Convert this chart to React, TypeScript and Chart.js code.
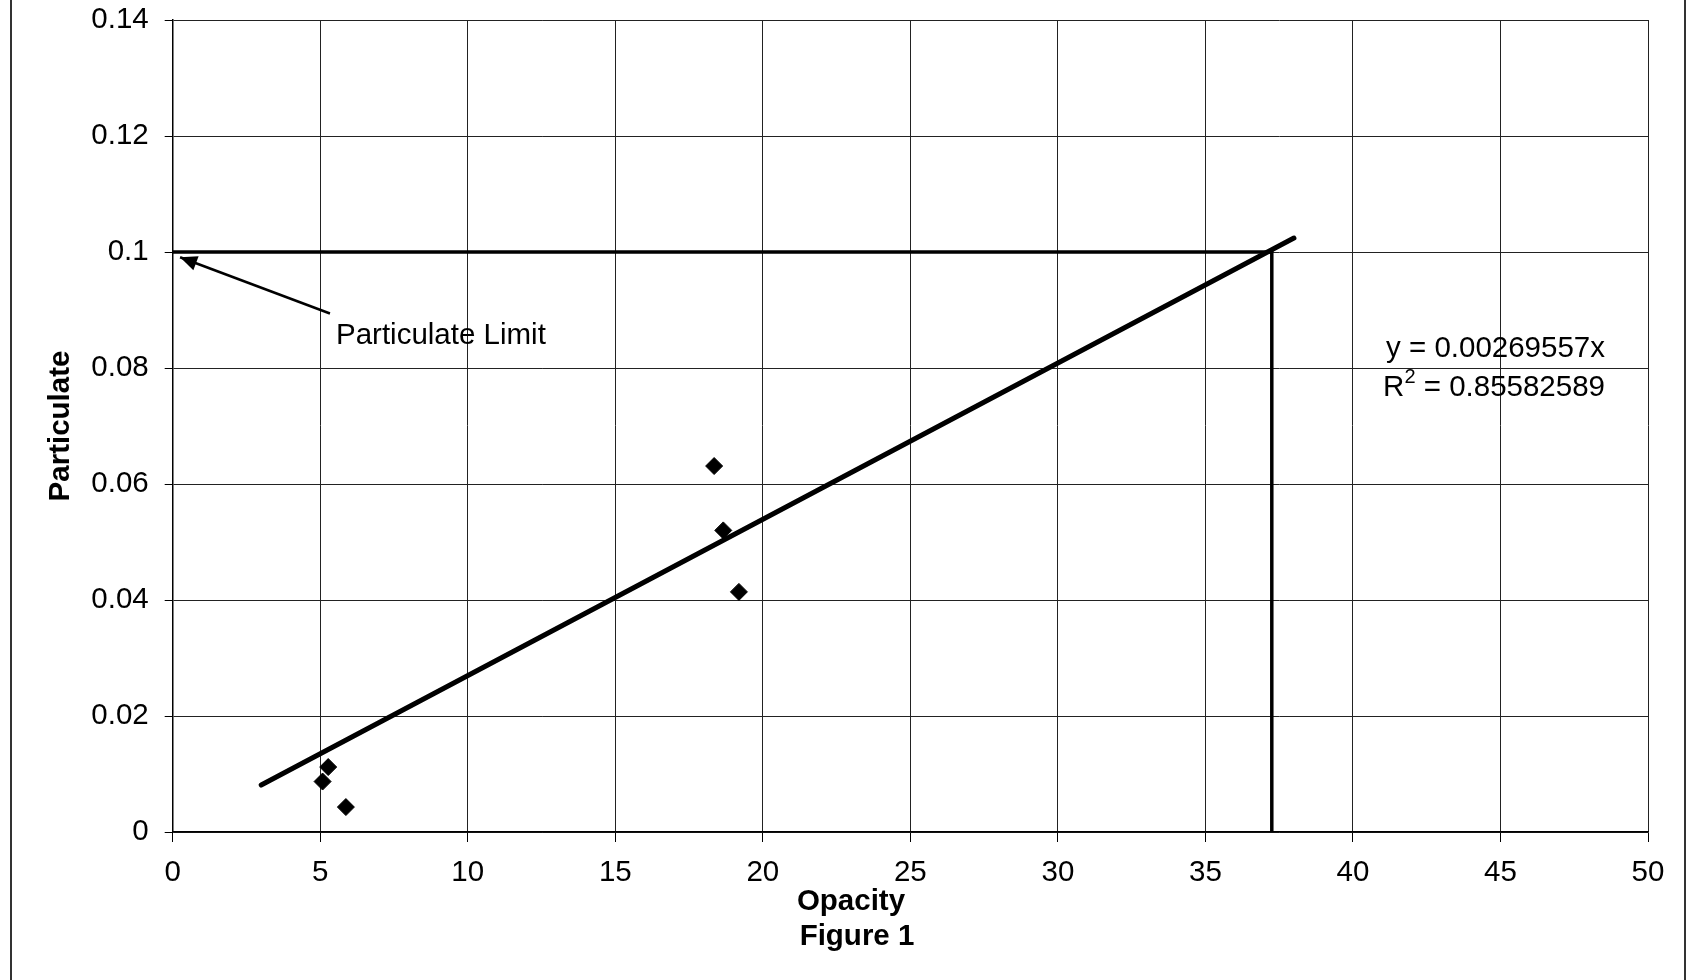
import React, { useEffect, useRef } from "react";
import { Chart, registerables } from "chart.js";

Chart.register(...registerables);

// ---- data ----
const opacity = [5.08, 5.27, 5.87, 18.35, 18.66, 19.19];
const particulate = [0.0087, 0.0112, 0.0043, 0.0631, 0.052, 0.0414];

const trendX = [3, 38];
const trendY = [0.0081, 0.1024];

const limitX = [0, 37.25, 37.25];
const limitY = [0.1, 0.1, 0];

const arrowX = [5.33, 0.25];
const arrowY = [0.0894, 0.0991];

const xTicks = [0, 5, 10, 15, 20, 25, 30, 35, 40, 45, 50];
const yTicks = [0, 0.02, 0.04, 0.06, 0.08, 0.1, 0.12, 0.14];

const xTitle = "Opacity";
const figureCaption = "Figure 1";
const yTitle = "Particulate";
const limitLabel = "Particulate Limit";
const equationText = "y = 0.00269557x";
const r2Value = " = 0.85582589";

const FONT = "'Liberation Sans', Arial, Helvetica, sans-serif";
const FS = 29.5;

const toPts = (xs: number[], ys: number[]) => xs.map((x, i) => ({ x, y: ys[i] }));

const overlayPlugin = {
  id: "overlay",
  afterDatasetsDraw(chart: any) {
    const ctx = chart.ctx as CanvasRenderingContext2D;
    const xs = chart.scales.x;
    const ys = chart.scales.y;
    ctx.save();

    // arrow head at the arrow's tip
    const tx = xs.getPixelForValue(arrowX[1]);
    const ty = ys.getPixelForValue(arrowY[1]);
    const sx = xs.getPixelForValue(arrowX[0]);
    const sy = ys.getPixelForValue(arrowY[0]);
    const ang = Math.atan2(ty - sy, tx - sx);
    const L = 17, W = 7.5;
    ctx.fillStyle = "#000";
    ctx.beginPath();
    ctx.moveTo(tx, ty);
    ctx.lineTo(tx - L * Math.cos(ang) + W * Math.sin(ang), ty - L * Math.sin(ang) - W * Math.cos(ang));
    ctx.lineTo(tx - L * Math.cos(ang) - W * Math.sin(ang), ty - L * Math.sin(ang) + W * Math.cos(ang));
    ctx.closePath();
    ctx.fill();

    // annotation label
    ctx.fillStyle = "#000";
    ctx.font = `${FS}px ${FONT}`;
    ctx.textAlign = "left";
    ctx.textBaseline = "middle";
    ctx.fillText(limitLabel, 336, 336);

    // equation (right aligned)
    const rightX = 1605;
    ctx.textAlign = "right";
    ctx.fillText(equationText, rightX, 349);
    const wVal = ctx.measureText(r2Value).width;
    ctx.fillText(r2Value, rightX, 388);
    ctx.font = `${FS * 0.68}px ${FONT}`;
    const w2 = ctx.measureText("2").width;
    ctx.fillText("2", rightX - wVal, 377);
    ctx.font = `${FS}px ${FONT}`;
    ctx.fillText("R", rightX - wVal - w2, 388);

    // axis titles
    ctx.font = `bold ${FS}px ${FONT}`;
    ctx.textAlign = "center";
    ctx.fillText(xTitle, 851, 902);
    ctx.fillText(figureCaption, 857, 937);
    ctx.save();
    ctx.translate(61, 426);
    ctx.rotate(-Math.PI / 2);
    ctx.fillText(yTitle, 0, 0);
    ctx.restore();

    // page frame lines (scanned document edges)
    ctx.strokeStyle = "#333";
    ctx.lineWidth = 2;
    ctx.beginPath();
    ctx.moveTo(11, 0);
    ctx.lineTo(11, 980);
    ctx.moveTo(1685, 0);
    ctx.lineTo(1685, 980);
    ctx.stroke();

    ctx.restore();
  },
};

export default function App() {
  const ref = useRef<HTMLCanvasElement>(null);

  useEffect(() => {
    if (!ref.current) return;
    const chart = new Chart(ref.current, {
      type: "scatter",
      data: {
        datasets: [
          {
            label: "Limit",
            data: toPts(limitX, limitY),
            showLine: true,
            borderColor: "#000",
            borderWidth: 3.5,
            pointRadius: 0,
            fill: false,
          },
          {
            label: "Trend",
            data: toPts(trendX, trendY),
            showLine: true,
            borderColor: "#000",
            borderWidth: 5,
            pointRadius: 0,
            fill: false,
            borderCapStyle: "round",
          },
          {
            label: "Arrow",
            data: toPts(arrowX, arrowY),
            showLine: true,
            borderColor: "#000",
            borderWidth: 2.5,
            pointRadius: 0,
            fill: false,
          },
          {
            label: "Particulate",
            data: toPts(opacity, particulate),
            pointStyle: "rectRot",
            pointRadius: 8.5,
            backgroundColor: "#000",
            borderColor: "#000",
            borderWidth: 1,
            showLine: false,
          },
        ],
      },
      options: {
        animation: false,
        responsive: false,
        devicePixelRatio: 1,
        layout: { padding: { left: 0, right: 40, top: 20, bottom: 0 } },
        plugins: {
          legend: { display: false },
          tooltip: { enabled: false },
          title: { display: false },
        },
        scales: {
          x: {
            type: "linear",
            min: 0,
            max: 50,
            afterBuildTicks: (s: any) => {
              s.ticks = xTicks.map((v) => ({ value: v }));
            },
            afterFit: (s: any) => {
              s.height = 148;
              s.paddingLeft = 0;
              s.paddingRight = 0;
            },
            ticks: {
              color: "#000",
              font: { family: FONT, size: FS },
              padding: 13,
              maxRotation: 0,
              autoSkip: false,
              callback: (v: any) => String(v),
            },
            grid: {
              color: "#222",
              lineWidth: 1,
              tickLength: 10,
              tickColor: "#000",
            },
            border: { color: "#000", width: 1.5 },
          },
          y: {
            type: "linear",
            min: 0,
            max: 0.14,
            afterBuildTicks: (s: any) => {
              s.ticks = yTicks.map((v) => ({ value: v }));
            },
            afterFit: (s: any) => {
              s.width = 172.7;
              s.paddingTop = 0;
              s.paddingBottom = 0;
            },
            ticks: {
              color: "#000",
              font: { family: FONT, size: FS },
              padding: 16,
              autoSkip: false,
              callback: (v: any) => String(Number(Number(v).toFixed(2))),
            },
            grid: {
              color: "#222",
              lineWidth: 1,
              tickLength: 8,
              tickColor: "#000",
            },
            border: { color: "#000", width: 1.5 },
          },
        },
      },
      plugins: [overlayPlugin],
    });
    return () => chart.destroy();
  }, []);

  return (
    <div style={{ position: "fixed", left: 0, top: 0, width: 1688, height: 980, background: "#fff" }}>
      <canvas ref={ref} width={1688} height={980} style={{ width: 1688, height: 980, display: "block" }} />
    </div>
  );
}
